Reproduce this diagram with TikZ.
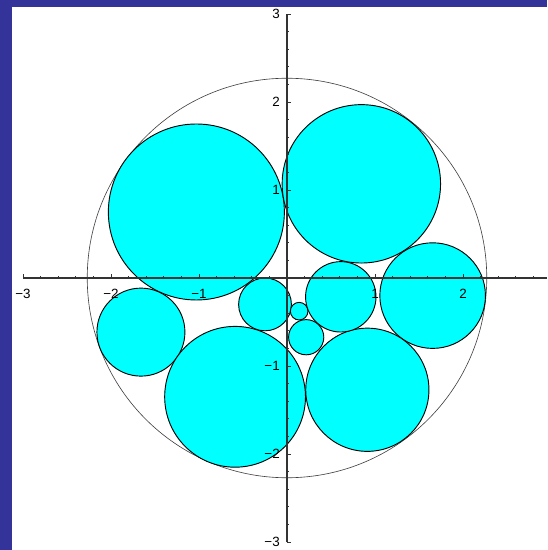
\documentclass[tikz,border=0pt]{standalone}
\usepackage{fontspec}
\setmainfont{Liberation Sans}
\definecolor{framebg}{RGB}{51,51,153}
\definecolor{discfill}{RGB}{0,255,255}
\begin{document}
\begin{tikzpicture}[x=3cm, y=3cm,
    axisline/.style={black!80, line width=1.4pt},
    tickline/.style={black!80, line width=0.7pt},
    disc/.style={fill=discfill, draw=black, line width=0.9pt},
    ticklabel/.style={font=\fontsize{13}{13}\selectfont, inner sep=0pt}]
    \useasboundingbox (-3.2614,-3.0909) rectangle (2.9545,3.159);
    \fill[framebg] (-3.2614,-3.0909) rectangle (2.9545,3.159);
    \fill[white] (-3.125,-3.0909) rectangle (2.9545,3.080);
    % enclosing circle
    \draw[black!75, line width=0.6pt] (0,0) circle (2.27);
    % packed discs: centre x / centre y / radius
    \foreach \cx/\cy/\r in {-1.03/0.75/1.0, 0.845/1.07/0.9, 1.655/-0.2/0.6,
        -1.66/-0.615/0.5, -0.59/-1.35/0.8, 0.913/-1.27/0.7, -0.25/-0.30/0.3,
        0.138/-0.377/0.1, 0.218/-0.673/0.2, 0.611/-0.214/0.4}
        \draw[disc] (\cx,\cy) circle (\r);
    % axes
    \draw[axisline] (-3,0) -- (2.96,0);
    \draw[axisline] (0,-3) -- (0,3);
    \foreach \i in {-15,...,15} {
        \draw[tickline] (\i/5,0) -- ++(0,0.025);
        \draw[tickline] (0,\i/5) -- ++(0.025,0);
    }
    \foreach \i in {-3,-2,-1,1,2,3} {
        \draw[tickline] (\i,0) -- ++(0,0.045);
        \draw[tickline] (0,\i) -- ++(0.045,0);
    }
    \foreach \i/\lbl in {-3/−3, -2/−2, -1/−1, 1/1, 2/2}
        \node[ticklabel] at (\i,-0.18) {\lbl};
    \foreach \i/\lbl in {-3/−3, -2/−2, -1/−1, 1/1, 2/2, 3/3}
        \node[ticklabel, anchor=east] at (-0.08,\i) {\lbl};
\end{tikzpicture}
\end{document}
